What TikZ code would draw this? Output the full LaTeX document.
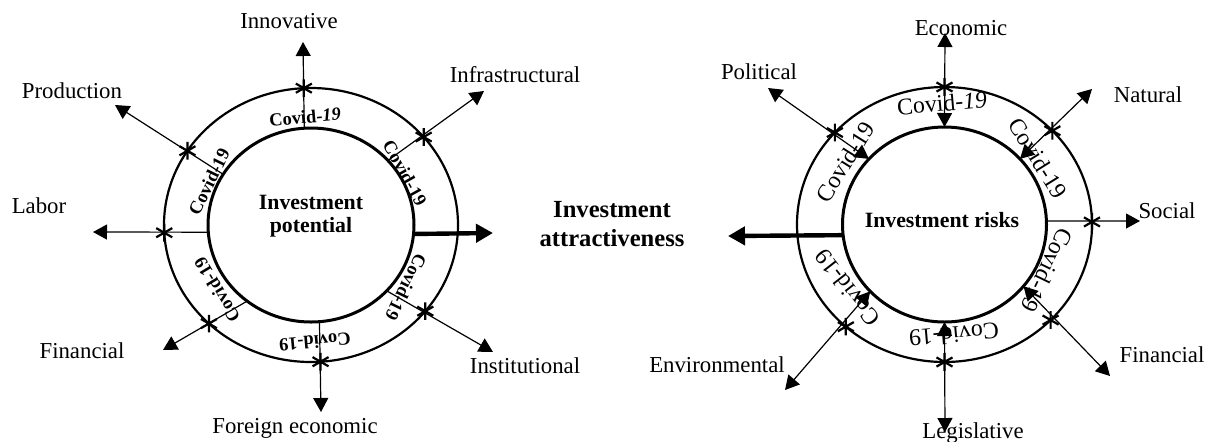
\documentclass[tikz,border=0pt]{standalone}
\usepackage{fontspec}
\setmainfont{Liberation Serif}
\usepackage{tikz}
\usetikzlibrary{shapes.geometric, arrows.meta, positioning}

\tikzset{
  astk/.pic={\draw[line width=1.1pt] (0,-4.4pt) -- (0,4.4pt) (-4pt,-2.3pt) -- (4pt,2.3pt) (-4pt,2.3pt) -- (4pt,-2.3pt);}
}

\begin{document}
\begin{tikzpicture}[x=0.5pt, y=-0.5pt,
    ring/.style={draw, ellipse, inner sep=0pt, outer sep=0pt},
    spoke/.style={line width=0.6pt, -{Triangle[length=7pt,width=7.5pt]}},
    dspoke/.style={line width=0.6pt, {Triangle[length=7pt,width=7.5pt]}-{Triangle[length=7pt,width=7.5pt]}},
    bigarrow/.style={line width=2.2pt, -{Triangle[length=8.5pt,width=9pt]}},
    lbl/.style={font=\fontsize{11.4}{13}\selectfont, anchor=base, inner sep=0pt},
    covb/.style={font=\bfseries\fontsize{9.2}{11}\selectfont, inner sep=0pt},
    covr/.style={font=\fontsize{11.9}{14}\selectfont, inner sep=0pt}]
    \useasboundingbox (0,0) rectangle (1210,441);

    % investment potential
    \node[ring, line width=1.1pt, minimum width=147pt, minimum height=137pt] (potOut) at (311,225) {};
    \node[ring, line width=1.5pt, minimum width=103pt, minimum height=97pt] (potIn) at (311,225) {};
    \node[font=\bfseries\fontsize{10.9}{11.5}\selectfont, align=center] (potTxt) at (311,216) {Investment\\potential};

    \node[covb, rotate=5] (cvL1) at (305,117) {Covid-\textit{19}};
    \node[covb, rotate=64] (cvL2) at (209,182) {Covid-19};
    \node[covb, rotate=-61] (cvL3) at (405,173) {Covid-19};
    \node[covb, rotate=121] (cvL4) at (217,290) {Covid-19};
    \node[covb, rotate=185] (cvL5) at (315,342) {Covid-19};
    \node[covb, rotate=244] (cvL6) at (406,287) {Covid-19};

    \coordinate (eInno) at (303,42);
    \coordinate (eInfra) at (484,91);
    \coordinate (eProd) at (115,105);
    \coordinate (eLab) at (93,232);
    \coordinate (eFinL) at (163,350);
    \coordinate (eFor) at (321,412);
    \coordinate (eInst) at (493,352);
    \draw[spoke] (potIn.94.5) -- (eInno);
    \draw[spoke] (potIn.40) -- (eInfra);
    \draw[spoke] (potIn.150) -- (eProd);
    \draw[spoke] (potIn.184.5) -- (eLab);
    \draw[spoke] (potIn.230) -- (eFinL);
    \draw[spoke] (potIn.275.9) -- (eFor);
    \draw[spoke] (potIn.319.3) -- (eInst);
    \pic at (potOut.93.5) {astk};
    \pic at (potOut.38.8) {astk};
    \pic at (potOut.149.5) {astk};
    \pic at (potOut.183) {astk};
    \pic at (potOut.224.7) {astk};
    \pic at (potOut.274.2) {astk};
    \pic at (potOut.323) {astk};

    \node[lbl] (lInno) at (289,28) {Innovative};
    \node[lbl] (lInfra) at (515,82) {Infrastructural};
    \node[lbl] (lProd) at (72,98) {Production};
    \node[lbl] (lLab) at (39,213) {Labor};
    \node[lbl] (lFinL) at (82,358) {Financial};
    \node[lbl] (lFor) at (295,433) {Foreign economic};
    \node[lbl] (lInst) at (525,373) {Institutional};

    % result in the middle
    \coordinate (ePot) at (493,233);
    \coordinate (eRisk) at (728,236);
    \draw[bigarrow] (potIn.355.6) -- (ePot);
    \node[font=\bfseries\fontsize{12.3}{14.5}\selectfont, align=center] (attr) at (612,224) {Investment\\attractiveness};

    % investment risks
    \node[ring, line width=1.1pt, minimum width=147.5pt, minimum height=137.5pt] (riskOut) at (944.5,224.5) {};
    \node[ring, line width=1.5pt, minimum width=102pt, minimum height=97.5pt] (riskIn) at (944.5,224.5) {};
    \node[font=\bfseries\fontsize{10.9}{12}\selectfont, anchor=base] (riskTxt) at (942,227) {Investment risks};
    \draw[bigarrow] (riskIn.186.4) -- (eRisk);

    \node[covr, rotate=5] (cvR1) at (942,103) {Covid-\textit{19}};
    \node[covr, rotate=58] (cvR2) at (845,162) {Covid-19};
    \node[covr, rotate=-58] (cvR3) at (1038,158) {Covid-19};
    \node[covr, rotate=244] (cvR4) at (1047,270) {Covid-19};
    \node[covr, rotate=185] (cvR5) at (954,335) {Covid-19};
    \node[covr, rotate=128] (cvR6) at (847,288) {Covid-19};

    \coordinate (eEco) at (945,33);
    \coordinate (eNat) at (1092,89);
    \coordinate (eSoc) at (1140,221);
    \coordinate (eFinR) at (1110,376);
    \coordinate (eLeg) at (945,432);
    \coordinate (eEnv) at (785,390);
    \coordinate (ePol) at (768,88);
    \draw[dspoke] (riskIn.90) -- (eEco);
    \draw[dspoke] (riskIn.41.8) -- (eNat);
    \draw[spoke] (riskIn.2) -- (eSoc);
    \draw[dspoke] (riskIn.322.7) -- (eFinR);
    \draw[dspoke] (riskIn.270) -- (eLeg);
    \draw[dspoke] (riskIn.222.7) -- (eEnv);
    \draw[dspoke] (riskIn.139) -- (ePol);
    \pic at (riskOut.90) {astk};
    \pic at (riskOut.41.8) {astk};
    \pic at (riskOut.1.4) {astk};
    \pic at (riskOut.318.6) {astk};
    \pic at (riskOut.270) {astk};
    \pic at (riskOut.226) {astk};
    \pic at (riskOut.140.3) {astk};

    \node[lbl] (lEco) at (961,35) {Economic};
    \node[lbl] (lNat) at (1148,102) {Natural};
    \node[lbl] (lSoc) at (1167,218) {Social};
    \node[lbl] (lFinR) at (1162,362) {Financial};
    \node[lbl] (lLeg) at (973,438) {Legislative};
    \node[lbl] (lEnv) at (717,372) {Environmental};
    \node[lbl] (lPol) at (759,79) {Political};
\end{tikzpicture}
\end{document}
